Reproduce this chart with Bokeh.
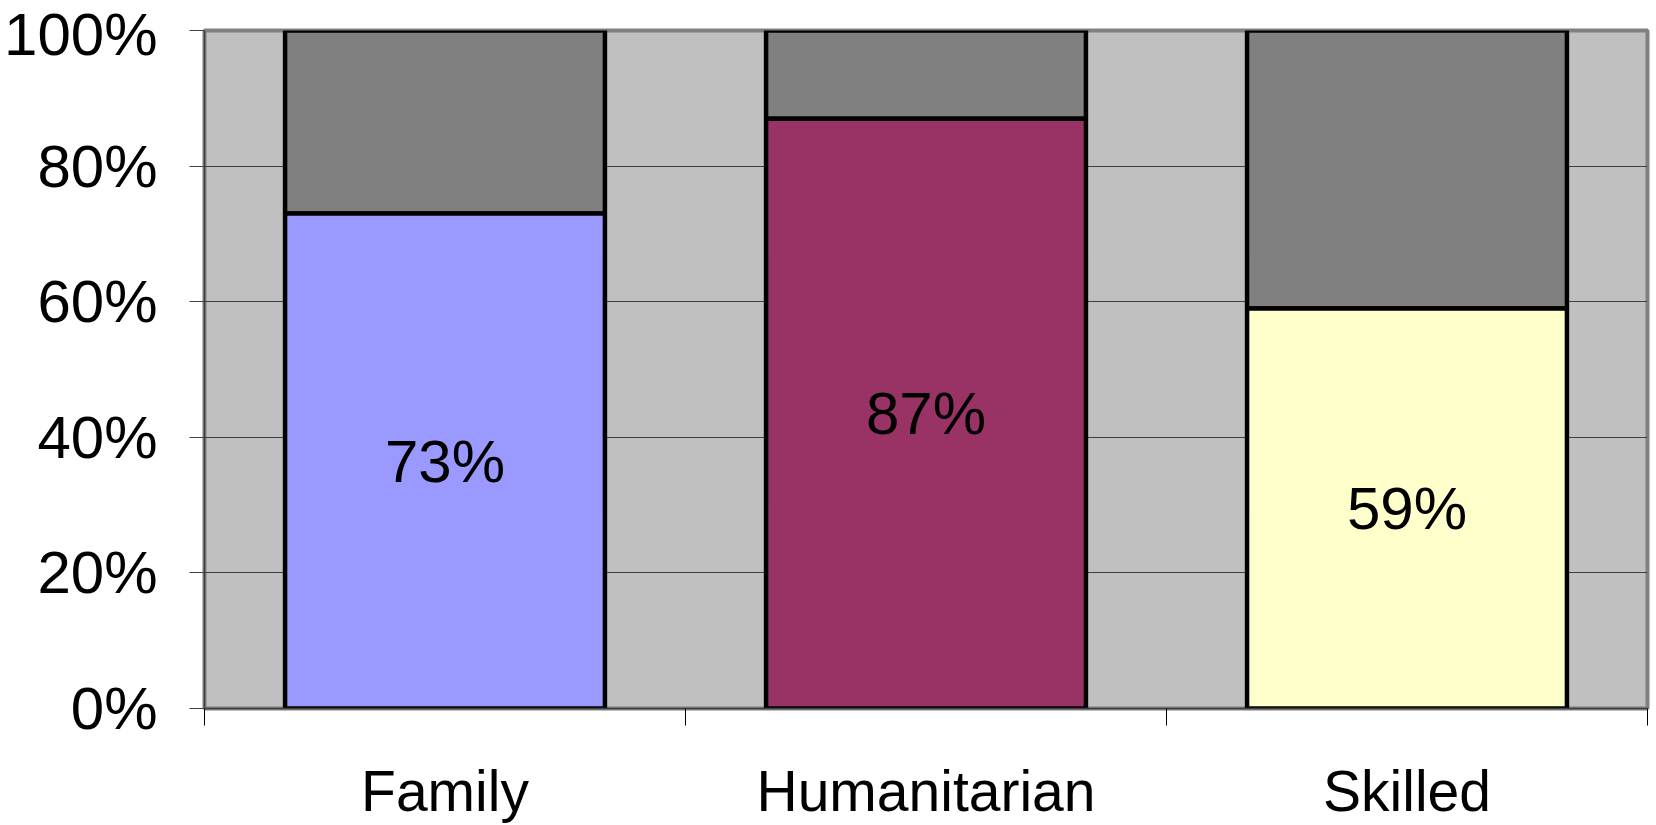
from bokeh.plotting import figure
from bokeh.models import FixedTicker, Range1d, ColumnDataSource, LabelSet
from bokeh.core.properties import value
from bokeh.embed import file_html
from bokeh.resources import INLINE

categories = ["Family", "Humanitarian", "Skilled"]
share = [73, 87, 59]          # lower segment (%)
rest = [100 - v for v in share]  # upper grey segment (%)
colors = ["#9999FF", "#993366", "#FFFFCC"]
y_ticks = [0, 20, 40, 60, 80, 100]
y_tick_labels = ["0%", "20%", "40%", "60%", "80%", "100%"]

xpos = [i + 0.5 for i in range(len(categories))]
src = ColumnDataSource(dict(
    x=xpos,
    share=share,
    top=[s + r for s, r in zip(share, rest)],
    color=colors,
    mid=[v / 2 for v in share],
    label=[f"{v}%" for v in share],
))

p = figure(width=1656, height=825, output_backend="svg", toolbar_location=None,
           x_range=Range1d(0, len(categories)), y_range=Range1d(0, 100),
           min_border_left=204, min_border_top=30, min_border_right=9, min_border_bottom=117)

p.background_fill_color = "#C0C0C0"
p.border_fill_color = "#FFFFFF"
p.outline_line_color = "#808080"
p.outline_line_width = 4

bw = 0.665
p.vbar(x="x", width=bw, bottom="share", top="top", source=src,
       fill_color="#808080", line_color="black", line_width=4.5)
p.vbar(x="x", width=bw, bottom=0, top="share", source=src,
       fill_color="color", line_color="black", line_width=4.5)

labels = LabelSet(x="x", y="mid", text="label", source=src, text_align="center",
                  text_baseline="middle", text_font=value("Liberation Sans"),
                  text_font_size="60px", text_color="black")
p.add_layout(labels)

# x axis
xt = FixedTicker(ticks=xpos, minor_ticks=list(range(len(categories) + 1)))
p.xaxis.ticker = xt
p.xaxis.major_label_overrides = {x: c for x, c in zip(xpos, categories)}
p.xaxis.major_tick_line_color = None
p.xaxis.major_tick_out = 0
p.xaxis.major_tick_in = 0
p.xaxis.minor_tick_line_color = "black"
p.xaxis.minor_tick_out = 17
p.xaxis.minor_tick_in = 0
p.xaxis.axis_line_color = "#404040"
p.xaxis.axis_line_width = 1.5
p.xaxis.major_label_standoff = 33
p.xaxis.major_label_text_font = "Liberation Sans"
p.xaxis.major_label_text_font_size = "57px"
p.xaxis.major_label_text_color = "black"

# y axis
p.yaxis.ticker = FixedTicker(ticks=y_ticks)
p.yaxis.major_label_overrides = {t: l for t, l in zip(y_ticks, y_tick_labels)}
p.yaxis.major_tick_out = 15
p.yaxis.major_tick_in = 0
p.yaxis.major_tick_line_color = "#404040"
p.yaxis.minor_tick_line_color = None
p.yaxis.axis_line_color = "#404040"
p.yaxis.axis_line_width = 1.5
p.yaxis.major_label_standoff = 32
p.yaxis.major_label_text_font = "Liberation Sans"
p.yaxis.major_label_text_font_size = "60px"
p.yaxis.major_label_text_color = "black"

p.xgrid.grid_line_color = None
p.ygrid.grid_line_color = "#404040"
p.ygrid.grid_line_width = 1

open("out.html", "w").write(file_html(p, INLINE))
